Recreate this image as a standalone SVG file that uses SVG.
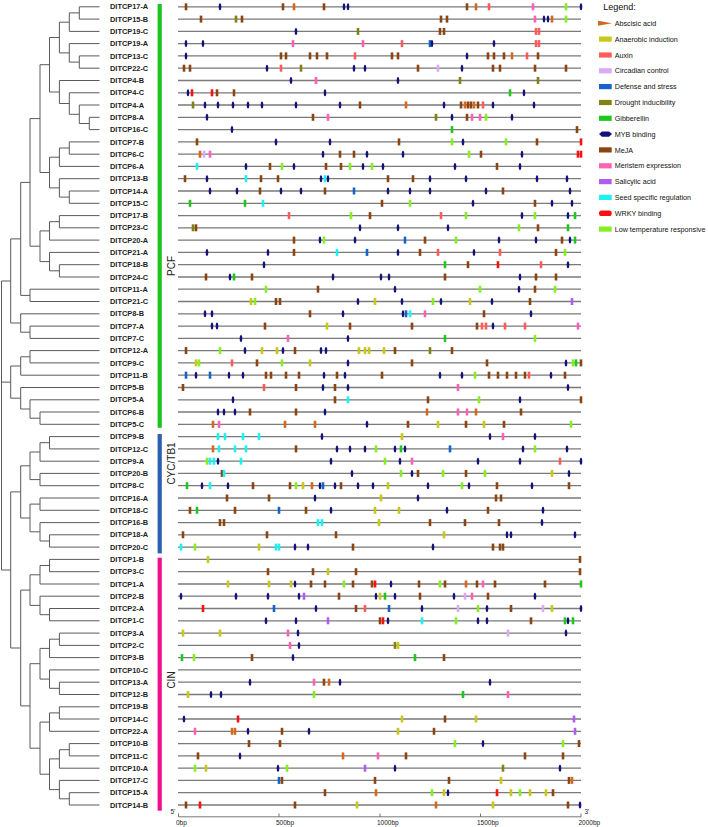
<svg xmlns="http://www.w3.org/2000/svg" xmlns:xlink="http://www.w3.org/1999/xlink" width="708" height="827" viewBox="0 0 708 827">
<style>
.tree{stroke:#5a5a5a;stroke-width:1;fill:none}
.tl{stroke:#7a7a7a;stroke-width:1.3;fill:none}
.lab{font-family:"Liberation Sans",Arial,sans-serif;font-size:7.4px;font-weight:bold;fill:#222}
.leg{font-family:"Liberation Sans",Arial,sans-serif;font-size:7.2px;fill:#111}
.grp{font-family:"Liberation Sans",Arial,sans-serif;font-size:10px;fill:#222}
.ax{font-family:"Liberation Sans",Arial,sans-serif;font-size:6.5px;fill:#222}
.ab{fill:#d2691e}.an{fill:#c8c81a}.au{fill:#ff5b5b}.ci{fill:#d9aaf5}.de{fill:#1565c8}.dr{fill:#828214}.gi{fill:#1ec81e}.my{fill:#12127a}.me{fill:#8b4513}.mr{fill:#ff5fb4}.sa{fill:#b05cf5}.se{fill:#1cf2f2}.wr{fill:#ff1010}.lt{fill:#84f020}
</style>
<defs>
<rect id="r" x="-1.3" y="-3.5" width="2.6" height="7"/>
<ellipse id="e" rx="1.3" ry="3.5"/>
</defs>
<g id="tree">
<path class="tree" d="M79.3 6.8H99.5M79.3 19.1H99.5M69.3 31.4H99.5M69.3 43.6H99.5M79.3 55.9H99.5M79.3 68.2H99.5M59.4 80.5H99.5M69.3 92.8H99.5M79.3 105H99.5M89.3 117.3H99.5M89.3 129.6H99.5M69.3 141.9H99.5M69.3 154.2H99.5M59.4 166.4H99.5M59.4 178.7H99.5M69.3 191H99.5M69.3 203.3H99.5M59.4 215.6H99.5M59.4 227.8H99.5M49.5 240.1H99.5M49.5 252.4H99.5M59.4 264.7H99.5M59.4 277H99.5M30 289.2H99.5M30 301.5H99.5M20.7 313.8H99.5M30 326.1H99.5M30 338.4H99.5M30 350.6H99.5M30 362.9H99.5M20.7 375.2H99.5M20.7 387.5H99.5M30 399.8H99.5M40 412H99.5M40 424.3H99.5M49.5 436.6H99.5M49.5 448.9H99.5M40 461.2H99.5M40 473.4H99.5M40 485.7H99.5M40 498H99.5M40 510.3H99.5M40 522.6H99.5M49.5 534.8H99.5M49.5 547.1H99.5M49.5 559.4H99.5M49.5 571.7H99.5M40 584H99.5M40 596.2H99.5M49.5 608.5H99.5M49.5 620.8H99.5M59.4 633.1H99.5M59.4 645.4H99.5M49.5 657.6H99.5M49.5 669.9H99.5M59.4 682.2H99.5M59.4 694.5H99.5M59.4 706.8H99.5M59.4 719H99.5M49.5 731.3H99.5M69.3 743.6H99.5M69.3 755.9H99.5M59.4 768.2H99.5M59.4 780.4H99.5M69.3 792.7H99.5M69.3 805H99.5"/>
<path class="tree" d="M79.3 6.8V19.1M69.3 12.9V31.4M79.3 55.9V68.2M69.3 43.6V62.1M59.4 22.2V52.9M89.3 117.3V129.6M79.3 105V123.5M69.3 92.8V114.3M59.4 80.5V103.5M49.5 37.5V92M69.3 141.9V154.2M59.4 148V166.4M69.3 191V203.3M59.4 178.7V197.1M49.5 157.2V187.9M40 64.7V172.5M59.4 215.6V227.8M49.5 221.7V240.1M59.4 264.7V277M49.5 252.4V270.8M40 230.9V261.6M30 118.6V246.2M30 289.2V301.5M20.7 182.4V295.4M30 326.1V338.4M20.7 313.8V332.2M10.7 238.9V323M30 350.6V362.9M20.7 356.8V375.2M40 412V424.3M30 399.8V418.2M20.7 387.5V409M10.7 366V398.2M49.5 436.6V448.9M40 442.7V461.2M40 473.4V485.7M30 452V479.6M40 498V510.3M49.5 534.8V547.1M40 522.6V541M30 504.1V531.8M20.7 465.8V518M49.5 559.4V571.7M40 565.5V584M49.5 608.5V620.8M40 596.2V614.7M30 574.8V605.4M59.4 633.1V645.4M49.5 639.2V657.6M59.4 682.2V694.5M49.5 669.9V688.3M40 648.4V679.1M59.4 706.8V719M49.5 712.9V731.3M69.3 743.6V755.9M59.4 749.7V768.2M69.3 792.7V805M59.4 780.4V798.8M49.5 758.9V789.6M40 722.1V774.2M30 663.7V748.2M20.7 590.1V705.9M10.7 491.9V648M1.5 281V570"/>
<path class="tree" d="M69.3 12.9H79.3M59.4 22.2H69.3M69.3 62.1H79.3M59.4 52.9H69.3M49.5 37.5H59.4M79.3 123.5H89.3M69.3 114.3H79.3M59.4 103.5H69.3M49.5 92H59.4M40 64.7H49.5M59.4 148H69.3M49.5 157.2H59.4M59.4 197.1H69.3M49.5 187.9H59.4M40 172.5H49.5M30 118.6H40M49.5 221.7H59.4M40 230.9H49.5M49.5 270.8H59.4M40 261.6H49.5M30 246.2H40M20.7 182.4H30M20.7 295.4H30M10.7 238.9H20.7M20.7 332.2H30M10.7 323H20.7M1.5 281H10.7M20.7 356.8H30M10.7 366H20.7M30 418.2H40M20.7 409H30M10.7 398.2H20.7M1.5 382.1H10.7M40 442.7H49.5M30 452H40M30 479.6H40M20.7 465.8H30M30 504.1H40M40 541H49.5M30 531.8H40M20.7 518H30M10.7 491.9H20.7M40 565.5H49.5M30 574.8H40M40 614.7H49.5M30 605.4H40M20.7 590.1H30M49.5 639.2H59.4M40 648.4H49.5M49.5 688.3H59.4M40 679.1H49.5M30 663.7H40M49.5 712.9H59.4M40 722.1H49.5M59.4 749.7H69.3M49.5 758.9H59.4M59.4 798.8H69.3M49.5 789.6H59.4M40 774.2H49.5M30 748.2H40M20.7 705.9H30M10.7 648H20.7M1.5 570H10.7"/>
</g>
<g id="labels" class="lab">
<text x="110" y="9.4">DITCP17-A</text><text x="110" y="21.7">DITCP15-B</text><text x="110" y="34">DITCP19-C</text><text x="110" y="46.2">DITCP19-A</text><text x="110" y="58.5">DITCP13-C</text><text x="110" y="70.8">DITCP22-C</text><text x="110" y="83.1">DITCP4-B</text><text x="110" y="95.4">DITCP4-C</text><text x="110" y="107.6">DITCP4-A</text><text x="110" y="119.9">DITCP8-A</text><text x="110" y="132.2">DITCP16-C</text><text x="110" y="144.5">DITCP7-B</text><text x="110" y="156.8">DITCP6-C</text><text x="110" y="169">DITCP6-A</text><text x="110" y="181.3">DITCP13-B</text><text x="110" y="193.6">DITCP14-A</text><text x="110" y="205.9">DITCP15-C</text><text x="110" y="218.2">DITCP17-B</text><text x="110" y="230.4">DITCP23-C</text><text x="110" y="242.7">DITCP20-A</text><text x="110" y="255">DITCP21-A</text><text x="110" y="267.3">DITCP18-B</text><text x="110" y="279.6">DITCP24-C</text><text x="110" y="291.8">DITCP11-A</text><text x="110" y="304.1">DITCP21-C</text><text x="110" y="316.4">DITCP8-B</text><text x="110" y="328.7">DITCP7-A</text><text x="110" y="341">DITCP7-C</text><text x="110" y="353.2">DITCP12-A</text><text x="110" y="365.5">DITCP9-C</text><text x="110" y="377.8">DITCP11-B</text><text x="110" y="390.1">DITCP5-B</text><text x="110" y="402.4">DITCP5-A</text><text x="110" y="414.6">DITCP6-B</text><text x="110" y="426.9">DITCP5-C</text><text x="110" y="439.2">DITCP9-B</text><text x="110" y="451.5">DITCP12-C</text><text x="110" y="463.8">DITCP9-A</text><text x="110" y="476">DITCP20-B</text><text x="110" y="488.3">DITCP8-C</text><text x="110" y="500.6">DITCP16-A</text><text x="110" y="512.9">DITCP18-C</text><text x="110" y="525.2">DITCP16-B</text><text x="110" y="537.4">DITCP18-A</text><text x="110" y="549.7">DITCP20-C</text><text x="110" y="562">DITCP1-B</text><text x="110" y="574.3">DITCP3-C</text><text x="110" y="586.6">DITCP1-A</text><text x="110" y="598.8">DITCP2-B</text><text x="110" y="611.1">DITCP2-A</text><text x="110" y="623.4">DITCP1-C</text><text x="110" y="635.7">DITCP3-A</text><text x="110" y="648">DITCP2-C</text><text x="110" y="660.2">DITCP3-B</text><text x="110" y="672.5">DITCP10-C</text><text x="110" y="684.8">DITCP13-A</text><text x="110" y="697.1">DITCP12-B</text><text x="110" y="709.4">DITCP19-B</text><text x="110" y="721.6">DITCP14-C</text><text x="110" y="733.9">DITCP22-A</text><text x="110" y="746.2">DITCP10-B</text><text x="110" y="758.5">DITCP11-C</text><text x="110" y="770.8">DITCP10-A</text><text x="110" y="783">DITCP17-C</text><text x="110" y="795.3">DITCP15-A</text><text x="110" y="807.6">DITCP14-B</text>
</g>
<g id="groups">
<rect x="157.6" y="4" width="4.2" height="423.8" fill="#1dc41d"/>
<rect x="157.6" y="434" width="4.2" height="119.4" fill="#2c5fae"/>
<rect x="157.6" y="557.7" width="4.2" height="253" fill="#ee1090"/>
<text class="grp" transform="translate(175,266) rotate(-90)" text-anchor="middle">PCF</text>
<text class="grp" transform="translate(175,463.5) rotate(-90)" text-anchor="middle">CYC/TB1</text>
<text class="grp" transform="translate(175,680) rotate(-90)" text-anchor="middle">CIN</text>
</g>
<g id="tracks">
<path class="tl" d="M178 6.8H581M178 19.1H581M178 31.4H581M178 43.6H581M178 55.9H581M178 68.2H581M178 80.5H581M178 92.8H581M178 105H581M178 117.3H581M178 129.6H581M178 141.9H581M178 154.2H581M178 166.4H581M178 178.7H581M178 191H581M178 203.3H581M178 215.6H581M178 227.8H581M178 240.1H581M178 252.4H581M178 264.7H581M178 277H581M178 289.2H581M178 301.5H581M178 313.8H581M178 326.1H581M178 338.4H581M178 350.6H581M178 362.9H581M178 375.2H581M178 387.5H581M178 399.8H581M178 412H581M178 424.3H581M178 436.6H581M178 448.9H581M178 461.2H581M178 473.4H581M178 485.7H581M178 498H581M178 510.3H581M178 522.6H581M178 534.8H581M178 547.1H581M178 559.4H581M178 571.7H581M178 584H581M178 596.2H581M178 608.5H581M178 620.8H581M178 633.1H581M178 645.4H581M178 657.6H581M178 669.9H581M178 682.2H581M178 694.5H581M178 706.8H581M178 719H581M178 731.3H581M178 743.6H581M178 755.9H581M178 768.2H581M178 780.4H581M178 792.7H581M178 805H581"/>
</g>
<g id="markers">
<g transform="translate(0,6.8)"><use href="#r" class="me" x="186"/><use href="#e" class="my" x="220"/><use href="#r" class="me" x="283"/><use href="#r" class="ab" x="294"/><use href="#r" class="me" x="324"/><use href="#e" class="my" x="344"/><use href="#e" class="my" x="348"/><use href="#r" class="me" x="467"/><use href="#r" class="ab" x="476"/><use href="#r" class="au" x="489"/><use href="#r" class="mr" x="533"/><use href="#r" class="lt" x="566"/><use href="#e" class="my" x="581"/></g>
<g transform="translate(0,19.1)"><use href="#r" class="me" x="201"/><use href="#r" class="dr" x="236"/><use href="#r" class="me" x="242"/><use href="#r" class="me" x="441"/><use href="#r" class="me" x="447"/><use href="#r" class="mr" x="535"/><use href="#e" class="my" x="544"/><use href="#e" class="my" x="548"/><use href="#r" class="ab" x="552"/><use href="#r" class="lt" x="566"/></g>
<g transform="translate(0,31.4)"><use href="#e" class="my" x="296"/><use href="#r" class="dr" x="358"/><use href="#r" class="me" x="440"/><use href="#r" class="me" x="444"/><use href="#r" class="au" x="536"/><use href="#r" class="au" x="539"/></g>
<g transform="translate(0,43.6)"><use href="#e" class="my" x="186"/><use href="#e" class="my" x="203"/><use href="#r" class="mr" x="293"/><use href="#r" class="mr" x="363"/><use href="#r" class="au" x="402"/><use href="#r" class="de" x="430"/><use href="#e" class="my" x="432"/><use href="#e" class="my" x="494"/><use href="#r" class="au" x="536"/><use href="#r" class="au" x="539"/></g>
<g transform="translate(0,55.9)"><use href="#e" class="my" x="186"/><use href="#r" class="me" x="281"/><use href="#r" class="me" x="286"/><use href="#r" class="me" x="310"/><use href="#r" class="me" x="317"/><use href="#r" class="me" x="327"/><use href="#r" class="au" x="355"/><use href="#r" class="me" x="392"/><use href="#r" class="me" x="398"/><use href="#e" class="my" x="467"/><use href="#r" class="me" x="488"/><use href="#r" class="me" x="494"/><use href="#r" class="me" x="504"/><use href="#r" class="ab" x="512"/><use href="#r" class="au" x="527"/><use href="#r" class="me" x="538"/></g>
<g transform="translate(0,68.2)"><use href="#r" class="me" x="184"/><use href="#r" class="me" x="190"/><use href="#e" class="my" x="267"/><use href="#r" class="au" x="281"/><use href="#r" class="dr" x="301"/><use href="#e" class="my" x="354"/><use href="#e" class="my" x="365"/><use href="#r" class="me" x="418"/><use href="#r" class="ci" x="438"/><use href="#e" class="my" x="462"/><use href="#r" class="me" x="493"/><use href="#r" class="me" x="500"/><use href="#r" class="me" x="535"/><use href="#r" class="me" x="566"/></g>
<g transform="translate(0,80.5)"><use href="#e" class="my" x="291"/><use href="#r" class="mr" x="316"/><use href="#e" class="my" x="398"/><use href="#r" class="dr" x="460"/><use href="#r" class="dr" x="538"/></g>
<g transform="translate(0,92.8)"><use href="#e" class="my" x="188"/><use href="#r" class="wr" x="192"/><use href="#r" class="wr" x="212"/><use href="#r" class="me" x="217"/><use href="#r" class="me" x="234"/><use href="#e" class="my" x="325"/><use href="#r" class="gi" x="510"/><use href="#e" class="my" x="524"/></g>
<g transform="translate(0,105)"><use href="#r" class="dr" x="193"/><use href="#e" class="my" x="205"/><use href="#e" class="my" x="218"/><use href="#e" class="my" x="233"/><use href="#e" class="my" x="248"/><use href="#e" class="my" x="262"/><use href="#e" class="my" x="296"/><use href="#e" class="my" x="340"/><use href="#r" class="me" x="360"/><use href="#r" class="ab" x="406"/><use href="#e" class="my" x="444"/><use href="#r" class="me" x="461"/><use href="#r" class="ab" x="465"/><use href="#r" class="me" x="468"/><use href="#r" class="me" x="471"/><use href="#r" class="ab" x="474"/><use href="#r" class="me" x="478"/><use href="#r" class="au" x="483"/><use href="#e" class="my" x="493"/><use href="#e" class="my" x="534"/></g>
<g transform="translate(0,117.3)"><use href="#e" class="my" x="207"/><use href="#r" class="me" x="313"/><use href="#r" class="mr" x="328"/><use href="#r" class="dr" x="436"/><use href="#e" class="my" x="452"/><use href="#r" class="me" x="467"/><use href="#r" class="mr" x="472"/><use href="#r" class="mr" x="480"/><use href="#r" class="lt" x="486"/><use href="#e" class="my" x="512"/></g>
<g transform="translate(0,129.6)"><use href="#e" class="my" x="232"/><use href="#r" class="gi" x="452"/><use href="#r" class="me" x="577"/></g>
<g transform="translate(0,141.9)"><use href="#r" class="me" x="197"/><use href="#e" class="my" x="276"/><use href="#e" class="my" x="330"/><use href="#r" class="me" x="399"/><use href="#r" class="lt" x="452"/><use href="#e" class="my" x="463"/><use href="#r" class="lt" x="506"/><use href="#r" class="me" x="537"/><use href="#r" class="wr" x="581"/></g>
<g transform="translate(0,154.2)"><use href="#r" class="ab" x="200"/><use href="#r" class="ci" x="204"/><use href="#r" class="mr" x="210"/><use href="#e" class="my" x="323"/><use href="#r" class="me" x="340"/><use href="#r" class="me" x="354"/><use href="#e" class="my" x="367"/><use href="#e" class="my" x="403"/><use href="#r" class="lt" x="469"/><use href="#r" class="me" x="481"/><use href="#e" class="my" x="522"/><use href="#r" class="wr" x="578"/><use href="#r" class="wr" x="581"/></g>
<g transform="translate(0,166.4)"><use href="#r" class="se" x="197"/><use href="#e" class="my" x="246"/><use href="#r" class="me" x="270"/><use href="#r" class="lt" x="282"/><use href="#e" class="my" x="294"/><use href="#r" class="me" x="326"/><use href="#r" class="me" x="341"/><use href="#r" class="lt" x="350"/><use href="#e" class="my" x="363"/><use href="#r" class="lt" x="372"/><use href="#e" class="my" x="383"/><use href="#e" class="my" x="455"/><use href="#r" class="me" x="497"/><use href="#e" class="my" x="520"/></g>
<g transform="translate(0,178.7)"><use href="#r" class="me" x="185"/><use href="#e" class="my" x="207"/><use href="#r" class="se" x="246"/><use href="#r" class="me" x="261"/><use href="#r" class="me" x="278"/><use href="#e" class="my" x="321"/><use href="#r" class="se" x="325"/><use href="#e" class="my" x="328"/><use href="#r" class="me" x="388"/><use href="#r" class="me" x="413"/><use href="#e" class="my" x="430"/><use href="#e" class="my" x="466"/><use href="#e" class="my" x="537"/><use href="#e" class="my" x="567"/></g>
<g transform="translate(0,191)"><use href="#e" class="my" x="210"/><use href="#e" class="my" x="237"/><use href="#r" class="me" x="260"/><use href="#e" class="my" x="281"/><use href="#e" class="my" x="301"/><use href="#r" class="me" x="325"/><use href="#r" class="de" x="354"/><use href="#e" class="my" x="388"/><use href="#e" class="my" x="410"/><use href="#e" class="my" x="430"/><use href="#e" class="my" x="486"/><use href="#r" class="me" x="503"/><use href="#e" class="my" x="570"/></g>
<g transform="translate(0,203.3)"><use href="#r" class="gi" x="190"/><use href="#r" class="gi" x="245"/><use href="#r" class="se" x="263"/><use href="#r" class="me" x="382"/><use href="#r" class="lt" x="410"/><use href="#e" class="my" x="473"/><use href="#r" class="me" x="535"/><use href="#e" class="my" x="552"/><use href="#e" class="my" x="572"/></g>
<g transform="translate(0,215.6)"><use href="#r" class="au" x="289"/><use href="#r" class="lt" x="351"/><use href="#r" class="me" x="370"/><use href="#r" class="au" x="441"/><use href="#r" class="lt" x="466"/><use href="#e" class="my" x="522"/><use href="#r" class="lt" x="535"/><use href="#e" class="my" x="568"/><use href="#r" class="gi" x="575"/></g>
<g transform="translate(0,227.8)"><use href="#r" class="dr" x="193"/><use href="#r" class="me" x="196"/><use href="#e" class="my" x="360"/><use href="#e" class="my" x="398"/><use href="#e" class="my" x="448"/><use href="#r" class="lt" x="519"/><use href="#r" class="me" x="538"/><use href="#r" class="gi" x="568"/></g>
<g transform="translate(0,240.1)"><use href="#r" class="me" x="294"/><use href="#e" class="my" x="320"/><use href="#r" class="lt" x="324"/><use href="#e" class="my" x="355"/><use href="#r" class="de" x="405"/><use href="#r" class="me" x="425"/><use href="#r" class="lt" x="456"/><use href="#e" class="my" x="499"/><use href="#e" class="my" x="536"/><use href="#r" class="me" x="562"/><use href="#e" class="my" x="570"/><use href="#r" class="gi" x="575"/></g>
<g transform="translate(0,252.4)"><use href="#e" class="my" x="207"/><use href="#e" class="my" x="268"/><use href="#r" class="me" x="294"/><use href="#r" class="se" x="337"/><use href="#r" class="de" x="367"/><use href="#e" class="my" x="398"/><use href="#r" class="me" x="420"/><use href="#r" class="au" x="438"/><use href="#e" class="my" x="474"/><use href="#r" class="au" x="500"/><use href="#r" class="me" x="556"/><use href="#r" class="lt" x="565"/></g>
<g transform="translate(0,264.7)"><use href="#e" class="my" x="264"/><use href="#r" class="gi" x="445"/><use href="#r" class="me" x="468"/><use href="#r" class="wr" x="498"/><use href="#r" class="au" x="541"/><use href="#e" class="my" x="568"/></g>
<g transform="translate(0,277)"><use href="#r" class="me" x="206"/><use href="#e" class="my" x="230"/><use href="#r" class="gi" x="234"/><use href="#r" class="me" x="252"/><use href="#e" class="my" x="333"/><use href="#e" class="my" x="381"/><use href="#e" class="my" x="389"/><use href="#r" class="me" x="445"/><use href="#e" class="my" x="520"/><use href="#r" class="me" x="536"/><use href="#r" class="me" x="556"/></g>
<g transform="translate(0,289.2)"><use href="#r" class="lt" x="266"/><use href="#r" class="me" x="318"/><use href="#e" class="my" x="395"/><use href="#r" class="lt" x="480"/><use href="#e" class="my" x="519"/><use href="#r" class="me" x="535"/><use href="#r" class="lt" x="555"/></g>
<g transform="translate(0,301.5)"><use href="#r" class="an" x="251"/><use href="#r" class="lt" x="255"/><use href="#r" class="me" x="276"/><use href="#r" class="me" x="280"/><use href="#e" class="my" x="358"/><use href="#r" class="an" x="375"/><use href="#e" class="my" x="402"/><use href="#r" class="lt" x="433"/><use href="#e" class="my" x="441"/><use href="#r" class="an" x="470"/><use href="#e" class="my" x="492"/><use href="#r" class="me" x="530"/><use href="#r" class="sa" x="572"/></g>
<g transform="translate(0,313.8)"><use href="#e" class="my" x="205"/><use href="#e" class="my" x="212"/><use href="#r" class="me" x="310"/><use href="#e" class="my" x="343"/><use href="#e" class="my" x="403"/><use href="#r" class="de" x="406"/><use href="#r" class="se" x="410"/><use href="#r" class="mr" x="425"/><use href="#r" class="me" x="484"/><use href="#e" class="my" x="531"/></g>
<g transform="translate(0,326.1)"><use href="#e" class="my" x="212"/><use href="#e" class="my" x="217"/><use href="#r" class="me" x="265"/><use href="#r" class="an" x="327"/><use href="#r" class="me" x="350"/><use href="#r" class="me" x="412"/><use href="#r" class="me" x="477"/><use href="#r" class="au" x="482"/><use href="#r" class="au" x="486"/><use href="#e" class="my" x="493"/><use href="#r" class="au" x="505"/><use href="#r" class="au" x="525"/><use href="#r" class="mr" x="578"/></g>
<g transform="translate(0,338.4)"><use href="#e" class="my" x="241"/><use href="#r" class="mr" x="288"/><use href="#e" class="my" x="348"/><use href="#r" class="gi" x="445"/><use href="#r" class="lt" x="535"/></g>
<g transform="translate(0,350.6)"><use href="#r" class="me" x="186"/><use href="#r" class="lt" x="220"/><use href="#e" class="my" x="245"/><use href="#r" class="an" x="262"/><use href="#r" class="an" x="277"/><use href="#e" class="my" x="283"/><use href="#r" class="me" x="295"/><use href="#e" class="my" x="321"/><use href="#e" class="my" x="326"/><use href="#r" class="an" x="359"/><use href="#r" class="an" x="365"/><use href="#r" class="an" x="369"/><use href="#r" class="an" x="384"/><use href="#r" class="me" x="395"/><use href="#r" class="dr" x="430"/><use href="#r" class="me" x="452"/></g>
<g transform="translate(0,362.9)"><use href="#r" class="an" x="196"/><use href="#r" class="lt" x="199"/><use href="#r" class="au" x="232"/><use href="#r" class="me" x="257"/><use href="#r" class="lt" x="282"/><use href="#r" class="an" x="310"/><use href="#e" class="my" x="348"/><use href="#r" class="me" x="412"/><use href="#r" class="me" x="487"/><use href="#e" class="my" x="566"/><use href="#r" class="lt" x="573"/><use href="#r" class="gi" x="576"/><use href="#r" class="me" x="581"/></g>
<g transform="translate(0,375.2)"><use href="#r" class="de" x="186"/><use href="#e" class="my" x="196"/><use href="#r" class="de" x="210"/><use href="#e" class="my" x="229"/><use href="#e" class="my" x="243"/><use href="#r" class="me" x="266"/><use href="#r" class="me" x="271"/><use href="#r" class="me" x="286"/><use href="#r" class="me" x="299"/><use href="#e" class="my" x="324"/><use href="#r" class="me" x="337"/><use href="#e" class="my" x="345"/><use href="#r" class="me" x="382"/><use href="#e" class="my" x="440"/><use href="#e" class="my" x="462"/><use href="#r" class="lt" x="475"/><use href="#r" class="me" x="489"/><use href="#r" class="me" x="498"/><use href="#r" class="me" x="507"/><use href="#r" class="me" x="516"/><use href="#r" class="me" x="525"/><use href="#r" class="au" x="529"/><use href="#e" class="my" x="551"/><use href="#r" class="me" x="565"/></g>
<g transform="translate(0,387.5)"><use href="#r" class="me" x="183"/><use href="#r" class="au" x="264"/><use href="#r" class="me" x="296"/><use href="#e" class="my" x="323"/><use href="#r" class="me" x="335"/><use href="#e" class="my" x="348"/><use href="#r" class="mr" x="458"/><use href="#e" class="my" x="568"/></g>
<g transform="translate(0,399.8)"><use href="#e" class="my" x="233"/><use href="#r" class="me" x="335"/><use href="#r" class="se" x="348"/><use href="#r" class="me" x="428"/><use href="#r" class="lt" x="479"/><use href="#e" class="my" x="520"/><use href="#r" class="me" x="581"/></g>
<g transform="translate(0,412)"><use href="#e" class="my" x="218"/><use href="#e" class="my" x="224"/><use href="#e" class="my" x="235"/><use href="#r" class="me" x="250"/><use href="#r" class="me" x="296"/><use href="#e" class="my" x="325"/><use href="#r" class="ab" x="427"/><use href="#r" class="mr" x="458"/><use href="#r" class="mr" x="467"/><use href="#r" class="ab" x="476"/><use href="#r" class="me" x="521"/></g>
<g transform="translate(0,424.3)"><use href="#r" class="ab" x="213"/><use href="#r" class="mr" x="219"/><use href="#r" class="ab" x="285"/><use href="#r" class="ab" x="315"/><use href="#e" class="my" x="367"/><use href="#r" class="me" x="408"/><use href="#r" class="an" x="438"/><use href="#r" class="me" x="466"/><use href="#r" class="an" x="484"/><use href="#r" class="me" x="504"/><use href="#r" class="lt" x="571"/></g>
<g transform="translate(0,436.6)"><use href="#r" class="se" x="218"/><use href="#r" class="se" x="225"/><use href="#r" class="se" x="243"/><use href="#r" class="se" x="259"/><use href="#e" class="my" x="322"/><use href="#r" class="an" x="402"/><use href="#e" class="my" x="490"/><use href="#r" class="mr" x="503"/><use href="#e" class="my" x="535"/></g>
<g transform="translate(0,448.9)"><use href="#r" class="ab" x="213"/><use href="#r" class="se" x="219"/><use href="#r" class="se" x="235"/><use href="#r" class="se" x="246"/><use href="#r" class="me" x="296"/><use href="#e" class="my" x="337"/><use href="#e" class="my" x="350"/><use href="#e" class="my" x="365"/><use href="#r" class="lt" x="376"/><use href="#e" class="my" x="395"/><use href="#r" class="gi" x="401"/><use href="#e" class="my" x="405"/><use href="#r" class="de" x="450"/><use href="#e" class="my" x="523"/><use href="#r" class="lt" x="535"/><use href="#e" class="my" x="567"/></g>
<g transform="translate(0,461.2)"><use href="#r" class="lt" x="207"/><use href="#r" class="se" x="210"/><use href="#r" class="se" x="214"/><use href="#e" class="my" x="218"/><use href="#r" class="se" x="241"/><use href="#e" class="my" x="331"/><use href="#r" class="lt" x="385"/><use href="#e" class="my" x="400"/><use href="#r" class="mr" x="412"/><use href="#e" class="my" x="478"/><use href="#e" class="my" x="520"/><use href="#r" class="au" x="560"/><use href="#e" class="my" x="581"/></g>
<g transform="translate(0,473.4)"><use href="#r" class="me" x="222"/><use href="#r" class="se" x="224"/><use href="#e" class="my" x="352"/><use href="#r" class="lt" x="401"/><use href="#e" class="my" x="412"/><use href="#r" class="me" x="418"/><use href="#r" class="lt" x="443"/><use href="#r" class="me" x="466"/><use href="#r" class="lt" x="485"/><use href="#r" class="an" x="552"/><use href="#e" class="my" x="569"/></g>
<g transform="translate(0,485.7)"><use href="#r" class="gi" x="187"/><use href="#e" class="my" x="202"/><use href="#r" class="se" x="210"/><use href="#e" class="my" x="228"/><use href="#r" class="me" x="253"/><use href="#r" class="me" x="290"/><use href="#r" class="lt" x="296"/><use href="#r" class="an" x="303"/><use href="#r" class="ab" x="312"/><use href="#e" class="my" x="320"/><use href="#r" class="de" x="323"/><use href="#e" class="my" x="335"/><use href="#r" class="me" x="341"/><use href="#e" class="my" x="358"/><use href="#e" class="my" x="373"/><use href="#r" class="an" x="388"/><use href="#e" class="my" x="428"/><use href="#r" class="lt" x="462"/><use href="#e" class="my" x="469"/><use href="#r" class="me" x="497"/><use href="#e" class="my" x="532"/><use href="#r" class="me" x="569"/></g>
<g transform="translate(0,498)"><use href="#r" class="me" x="227"/><use href="#r" class="me" x="269"/><use href="#e" class="my" x="315"/><use href="#r" class="an" x="381"/><use href="#e" class="my" x="418"/><use href="#r" class="me" x="496"/><use href="#r" class="me" x="501"/></g>
<g transform="translate(0,510.3)"><use href="#r" class="me" x="190"/><use href="#r" class="gi" x="197"/><use href="#r" class="me" x="235"/><use href="#r" class="de" x="279"/><use href="#r" class="me" x="306"/><use href="#e" class="my" x="331"/><use href="#r" class="an" x="375"/><use href="#r" class="an" x="399"/><use href="#e" class="my" x="447"/><use href="#r" class="me" x="488"/><use href="#e" class="my" x="543"/></g>
<g transform="translate(0,522.6)"><use href="#r" class="me" x="220"/><use href="#r" class="me" x="224"/><use href="#r" class="se" x="318"/><use href="#r" class="se" x="322"/><use href="#r" class="an" x="379"/><use href="#r" class="me" x="430"/><use href="#r" class="me" x="465"/><use href="#r" class="me" x="499"/><use href="#e" class="my" x="542"/></g>
<g transform="translate(0,534.8)"><use href="#r" class="me" x="183"/><use href="#r" class="me" x="267"/><use href="#r" class="me" x="336"/><use href="#r" class="an" x="444"/><use href="#e" class="my" x="507"/><use href="#e" class="my" x="511"/><use href="#e" class="my" x="575"/></g>
<g transform="translate(0,547.1)"><use href="#r" class="se" x="181"/><use href="#r" class="lt" x="195"/><use href="#r" class="an" x="259"/><use href="#r" class="se" x="276"/><use href="#r" class="se" x="279"/><use href="#e" class="my" x="295"/><use href="#e" class="my" x="308"/><use href="#r" class="me" x="353"/><use href="#e" class="my" x="433"/><use href="#r" class="me" x="493"/><use href="#r" class="me" x="500"/><use href="#r" class="me" x="503"/></g>
<g transform="translate(0,559.4)"><use href="#r" class="an" x="208"/><use href="#r" class="me" x="580"/></g>
<g transform="translate(0,571.7)"><use href="#r" class="me" x="268"/><use href="#r" class="me" x="313"/><use href="#r" class="an" x="328"/><use href="#r" class="me" x="356"/><use href="#r" class="me" x="580"/></g>
<g transform="translate(0,584)"><use href="#r" class="an" x="228"/><use href="#r" class="an" x="269"/><use href="#r" class="an" x="291"/><use href="#e" class="my" x="295"/><use href="#r" class="me" x="311"/><use href="#r" class="me" x="325"/><use href="#r" class="lt" x="344"/><use href="#r" class="me" x="353"/><use href="#r" class="me" x="372"/><use href="#r" class="wr" x="375"/><use href="#e" class="my" x="391"/><use href="#r" class="me" x="419"/><use href="#r" class="lt" x="440"/><use href="#r" class="me" x="445"/><use href="#r" class="ab" x="466"/><use href="#r" class="me" x="477"/><use href="#r" class="mr" x="483"/><use href="#r" class="me" x="495"/><use href="#r" class="me" x="545"/><use href="#r" class="gi" x="581"/></g>
<g transform="translate(0,596.2)"><use href="#e" class="my" x="181"/><use href="#e" class="my" x="236"/><use href="#e" class="my" x="268"/><use href="#e" class="my" x="299"/><use href="#r" class="sa" x="304"/><use href="#r" class="me" x="339"/><use href="#e" class="my" x="376"/><use href="#r" class="an" x="380"/><use href="#r" class="gi" x="385"/><use href="#e" class="my" x="395"/><use href="#r" class="me" x="420"/><use href="#e" class="my" x="454"/><use href="#r" class="ci" x="465"/><use href="#r" class="mr" x="472"/><use href="#r" class="me" x="488"/><use href="#e" class="my" x="535"/></g>
<g transform="translate(0,608.5)"><use href="#r" class="wr" x="203"/><use href="#r" class="de" x="274"/><use href="#e" class="my" x="316"/><use href="#r" class="me" x="356"/><use href="#r" class="au" x="365"/><use href="#r" class="de" x="389"/><use href="#e" class="my" x="422"/><use href="#r" class="ci" x="458"/><use href="#r" class="lt" x="478"/><use href="#e" class="my" x="487"/><use href="#r" class="me" x="511"/><use href="#r" class="ci" x="543"/><use href="#r" class="an" x="552"/><use href="#e" class="my" x="581"/></g>
<g transform="translate(0,620.8)"><use href="#e" class="my" x="266"/><use href="#e" class="my" x="296"/><use href="#r" class="sa" x="328"/><use href="#r" class="me" x="380"/><use href="#r" class="wr" x="383"/><use href="#e" class="my" x="388"/><use href="#r" class="se" x="422"/><use href="#r" class="lt" x="456"/><use href="#e" class="my" x="478"/><use href="#e" class="my" x="487"/><use href="#r" class="me" x="531"/><use href="#r" class="gi" x="565"/><use href="#e" class="my" x="568"/><use href="#r" class="gi" x="573"/></g>
<g transform="translate(0,633.1)"><use href="#r" class="an" x="183"/><use href="#r" class="an" x="220"/><use href="#r" class="mr" x="288"/><use href="#e" class="my" x="298"/><use href="#r" class="ci" x="508"/><use href="#e" class="my" x="566"/></g>
<g transform="translate(0,645.4)"><use href="#r" class="mr" x="290"/><use href="#e" class="my" x="299"/><use href="#r" class="dr" x="395"/><use href="#r" class="an" x="398"/></g>
<g transform="translate(0,657.6)"><use href="#r" class="gi" x="182"/><use href="#r" class="lt" x="194"/><use href="#r" class="me" x="252"/><use href="#e" class="my" x="293"/><use href="#r" class="gi" x="415"/><use href="#r" class="me" x="444"/></g>
<g transform="translate(0,682.2)"><use href="#e" class="my" x="250"/><use href="#r" class="mr" x="314"/><use href="#r" class="me" x="324"/><use href="#r" class="ab" x="329"/><use href="#e" class="my" x="340"/><use href="#e" class="my" x="490"/></g>
<g transform="translate(0,694.5)"><use href="#r" class="an" x="188"/><use href="#e" class="my" x="211"/><use href="#e" class="my" x="221"/><use href="#r" class="lt" x="314"/><use href="#r" class="gi" x="463"/><use href="#r" class="mr" x="508"/></g>
<g transform="translate(0,719)"><use href="#e" class="my" x="184"/><use href="#r" class="wr" x="238"/><use href="#r" class="an" x="402"/><use href="#r" class="me" x="445"/><use href="#r" class="an" x="476"/><use href="#r" class="sa" x="574"/></g>
<g transform="translate(0,731.3)"><use href="#r" class="mr" x="195"/><use href="#r" class="ab" x="232"/><use href="#r" class="ab" x="235"/><use href="#e" class="my" x="248"/><use href="#r" class="me" x="282"/><use href="#e" class="my" x="309"/><use href="#r" class="an" x="398"/><use href="#r" class="me" x="434"/><use href="#r" class="sa" x="575"/></g>
<g transform="translate(0,743.6)"><use href="#r" class="me" x="249"/><use href="#r" class="me" x="280"/><use href="#r" class="lt" x="455"/><use href="#e" class="my" x="483"/><use href="#r" class="lt" x="563"/><use href="#r" class="me" x="579"/></g>
<g transform="translate(0,755.9)"><use href="#r" class="me" x="198"/><use href="#e" class="my" x="240"/><use href="#r" class="ab" x="343"/><use href="#r" class="mr" x="378"/><use href="#r" class="me" x="406"/><use href="#r" class="me" x="525"/><use href="#r" class="me" x="563"/></g>
<g transform="translate(0,768.2)"><use href="#r" class="lt" x="195"/><use href="#r" class="an" x="206"/><use href="#e" class="my" x="278"/><use href="#r" class="lt" x="287"/><use href="#r" class="sa" x="365"/><use href="#e" class="my" x="395"/><use href="#r" class="dr" x="503"/><use href="#e" class="my" x="560"/></g>
<g transform="translate(0,780.4)"><use href="#r" class="de" x="279"/><use href="#r" class="me" x="282"/><use href="#r" class="me" x="375"/><use href="#r" class="me" x="449"/><use href="#r" class="an" x="501"/><use href="#r" class="me" x="569"/><use href="#r" class="ab" x="572"/></g>
<g transform="translate(0,792.7)"><use href="#r" class="me" x="325"/><use href="#r" class="ab" x="376"/><use href="#r" class="lt" x="432"/><use href="#r" class="an" x="444"/><use href="#e" class="my" x="448"/><use href="#r" class="wr" x="497"/><use href="#r" class="an" x="511"/><use href="#r" class="lt" x="520"/><use href="#r" class="an" x="530"/><use href="#r" class="an" x="546"/><use href="#r" class="me" x="553"/></g>
<g transform="translate(0,805)"><use href="#r" class="me" x="186"/><use href="#r" class="wr" x="200"/><use href="#r" class="me" x="295"/><use href="#r" class="an" x="357"/><use href="#r" class="ab" x="436"/><use href="#r" class="an" x="493"/><use href="#r" class="me" x="568"/><use href="#e" class="my" x="580"/></g>
</g>
<g id="axis">
<path d="M178.5 816.8H581M178.5 813.5V816.8M279 813.5V816.8M380 813.5V816.8M480.5 813.5V816.8M581 813.5V816.8" stroke="#555" stroke-width="0.8" fill="none"/>
<text class="ax" x="170.5" y="814">5'</text>
<text class="ax" x="584.5" y="813.5">3'</text>
<text class="ax" x="176" y="824.5">0bp</text>
<text class="ax" x="276" y="824.5">500bp</text>
<text class="ax" x="377" y="824.5">1000bp</text>
<text class="ax" x="477" y="824.5">1500bp</text>
<text class="ax" x="578.5" y="824.5">2000bp</text>
</g>
<g id="legend">
<text x="603.3" y="9.5" style="font-family:'Liberation Sans',Arial,sans-serif;font-size:9px;fill:#111">Legend:</text>
<polygon points="598,20.8 612,23.3 598,25.8" class="ab"/><text class="leg" x="614.7" y="25.9">Abscisic acid</text>
<rect x="599" y="36.5" width="12.7" height="5.2" class="an"/><text class="leg" x="614.7" y="41.7">Anaerobic induction</text>
<rect x="599" y="52.4" width="12.7" height="5.2" class="au"/><text class="leg" x="614.7" y="57.6">Auxin</text>
<rect x="599" y="68.2" width="12.7" height="5.2" class="ci"/><text class="leg" x="614.7" y="73.4">Circadian control</text>
<rect x="599" y="84" width="12.7" height="5.2" class="de"/><text class="leg" x="614.7" y="89.2">Defense and stress</text>
<rect x="599" y="99.9" width="12.7" height="5.2" class="dr"/><text class="leg" x="614.7" y="105.1">Drought inducibility</text>
<rect x="599" y="115.7" width="12.7" height="5.2" class="gi"/><text class="leg" x="614.7" y="120.9">Gibberellin</text>
<polygon points="599,134.1 602,131.4 609,131.4 612,134.1 609,136.8 602,136.8" class="my"/><text class="leg" x="614.7" y="136.7">MYB binding</text>
<rect x="599" y="147.3" width="12.7" height="5.2" class="me"/><text class="leg" x="614.7" y="152.5">MeJA</text>
<rect x="599" y="163.2" width="12.7" height="5.2" class="mr"/><text class="leg" x="614.7" y="168.4">Meristem expression</text>
<rect x="599" y="179" width="12.7" height="5.2" class="sa"/><text class="leg" x="614.7" y="184.2">Salicylic acid</text>
<rect x="599" y="194.8" width="12.7" height="5.2" class="se"/><text class="leg" x="614.7" y="200">Seed specific regulation</text>
<rect x="599" y="210.6" width="12.7" height="5.4" rx="2.6" class="wr"/><text class="leg" x="614.7" y="215.9">WRKY binding</text>
<rect x="599" y="226.5" width="12.7" height="5.2" class="lt"/><text class="leg" x="614.7" y="231.7">Low temperature responsive</text>
</g>
</svg>
